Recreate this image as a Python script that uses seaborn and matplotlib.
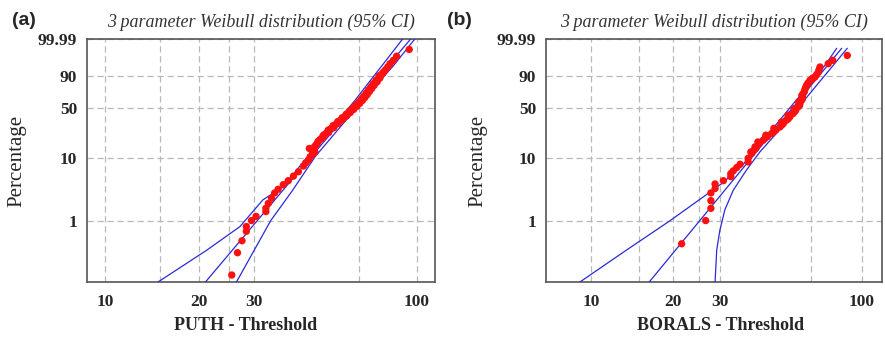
import numpy as np
import matplotlib
matplotlib.use('Agg')
import matplotlib.pyplot as plt
from matplotlib.ticker import NullFormatter
import seaborn as sns

# ---- data (x = value - threshold, y = cumulative %) ----
puth_x = [25.5, 26.6, 27.5, 28.4, 28.4, 29.5, 30.5,
          32.8, 32.8, 33.4, 34.2, 35.0, 35.9, 37.3, 38.7, 40.2, 41.7, 43.3, 44.0,
          44.9, 45.5, 46.3, 47.1, 46.0,
          47.0, 48.0, 48.9, 49.9, 50.9, 51.9, 52.9, 53.9, 54.9, 55.8, 56.8, 57.7,
          58.6, 59.4, 60.2, 61.0, 61.8, 62.6, 63.3, 64.0, 64.7, 65.3, 65.9, 66.6,
          67.2, 67.8, 68.4, 68.9, 69.5, 70.1, 70.7, 71.3, 72.0, 72.7, 73.5, 74.3,
          75.1, 76.0, 76.9, 78.2, 79.3, 80.6, 82.0, 84.0, 86.1, 94.5,
          45.2, 47.6, 48.3, 49.9, 50.2, 52.1, 52.0, 54.1, 53.9, 55.9, 55.8, 57.8,
          57.6, 59.5, 59.3, 61.1, 60.8, 62.7, 62.4, 64.2, 63.8, 65.6, 65.3, 66.9,
          66.5, 68.1, 67.6, 69.3, 68.8, 70.4, 69.9, 71.6, 71.2, 72.9, 72.4, 74.5,
          74.0, 76.1, 75.6, 77.5]
puth_pct = [0.13, 0.30, 0.47, 0.67, 0.80, 1.0, 1.17,
            1.40, 1.58, 1.9, 2.3, 2.8, 3.2, 3.8, 4.4, 5.2, 6.1, 7.5, 8.4,
            9.3, 10.5, 11.4, 12.4, 13.3,
            15, 17, 19, 21, 23, 25, 27, 29, 31, 33, 35, 37,
            39, 41, 43, 45, 47, 49, 51, 53, 55, 57, 59, 61,
            63, 65, 67, 69, 71, 73, 75, 77, 79, 81, 83, 85,
            87, 89, 91, 93, 94.5, 96, 97.4, 98.4, 99.2, 99.8,
            14, 16, 18, 20, 22, 24, 26, 28, 30, 32, 34, 36,
            38, 40, 42, 44, 46, 48, 50, 52, 54, 56, 58, 60,
            62, 64, 66, 68, 70, 72, 74, 76, 78, 80, 82, 84,
            86, 88, 90, 92]

borals_x = [21.6, 26.5, 27.7, 27.7, 27.7, 28.7, 28.7, 30.8, 32.8, 32.8, 33.5,
            34.5, 35.5, 38.0, 38.0, 39.2,
            39.8, 40.3, 41.7, 43.2, 44.8, 46.4, 48.1, 49.8, 51.3, 52.7, 54.2,
            55.7, 57.0, 58.2, 59.0, 59.8, 60.3, 60.7, 61.6, 62.5, 63.4, 64.3,
            65.8, 67.1, 68.0, 69.0, 69.5, 70.0, 75.1, 78.0, 88.3,
            38.9, 40.6, 41.3, 43.9, 44.2, 47.2, 47.3, 50.6, 50.5, 53.5, 53.4,
            56.4, 56.2, 58.9, 58.4, 60.3, 60.0, 61.3, 62.0, 63.0, 65.2, 66.0]
borals_pct = [0.42, 1.0, 1.58, 2.1, 2.8, 3.3, 3.9, 4.4, 5.1, 5.7, 6.3,
              7.1, 8.0, 8.7, 9.9, 11.8,
              13, 14.8, 16.5, 18.6, 21, 23.2, 26, 28.7, 32, 35.4, 39,
              42.9, 47, 51.4, 56, 60, 65, 69.5, 75, 80.2, 83, 85.8,
              87.5, 89, 91, 93, 94.5, 96, 97.4, 98.4, 99.3,
              12.4, 14, 17.5, 19.8, 22, 24.5, 27.5, 30.5, 33.5, 37, 41,
              45, 49, 53.5, 58, 62, 67, 72, 77.5, 82, 86.5, 88.2]

# fitted line and 95% confidence bounds
puth_fit_x = [21.0, 95.5]
puth_fit_pct = [0.1, 99.99]
puth_lo_x = [14.8, 21.2, 27.1, 32.1, 37.3, 44.6, 54.2, 63.3, 70.7, 77.7, 90.0]
puth_lo_pct = [0.1, 0.33, 0.8, 2.17, 3.5, 10.5, 30, 60, 85, 97, 99.99]
puth_hi_x = [26.4, 34.0, 39.8, 47.2, 57.3, 67.2, 76.1, 84.6, 98.5]
puth_hi_pct = [0.1, 1.0, 3.0, 10.5, 30, 60, 85, 97, 99.99]

borals_fit_x = [16.4, 84.2]
borals_fit_pct = [0.1, 99.85]
borals_lo_x = [9.1, 13.5, 19.6, 25.2, 30.5, 36.0, 39.0, 47.9, 57.1, 65.4, 73.3, 80.7]
borals_lo_pct = [0.1, 0.33, 1.0, 2.2, 4.0, 7.5, 11, 30, 60, 85, 97, 99.85]
borals_hi_x = [28.7, 29.1, 29.9, 31.2, 33.5, 37.5, 42.0, 51.3, 61.2, 70.1, 78.7, 88.3]
borals_hi_pct = [0.1, 0.33, 0.7, 1.5, 3.1, 6.5, 12.4, 30, 60, 85, 97, 99.85]

y_ticks = [1, 10, 50, 90, 99.99]
y_labels = ['1', '10', '50', '90', '99.99']
x_ticks = [10, 20, 30, 100]
x_labels = ['10', '20', '30', '100']
x_grid_extra = [15, 25, 65]


def weib_fwd(p):
    p = np.clip(np.asarray(p, dtype=float), 1e-6, 100 - 1e-9)
    return np.log(-np.log(1 - p / 100.0))


def weib_inv(w):
    return 100.0 * (1 - np.exp(-np.exp(np.asarray(w, dtype=float))))


sns.set_style('white')
plt.rcParams['font.family'] = ['Liberation Serif', 'DejaVu Serif']

fig = plt.figure(figsize=(8.85, 3.37), dpi=100)
ax_a = fig.add_axes([87 / 885, 1 - 282 / 337, 348 / 885, 243 / 337])
ax_b = fig.add_axes([546 / 885, 1 - 282 / 337, 336 / 885, 243 / 337])

panels = [
    (ax_a, puth_x, puth_pct,
     [(puth_fit_x, puth_fit_pct), (puth_lo_x, puth_lo_pct), (puth_hi_x, puth_hi_pct)],
     (8.76, 114.3), 'PUTH - Threshold', 0.457, '(a)', -0.216),
    (ax_b, borals_x, borals_pct,
     [(borals_fit_x, borals_fit_pct), (borals_lo_x, borals_lo_pct), (borals_hi_x, borals_hi_pct)],
     (6.82, 118.6), 'BORALS - Threshold', 0.518, '(b)', -0.295),
]

for ax, px, pp, lines, xlim, xlabel, xl_pos, letter, let_x in panels:
    ax.set_xscale('log')
    ax.set_yscale('function', functions=(weib_fwd, weib_inv))

    for lx, lp in lines:
        sns.lineplot(x=lx, y=lp, ax=ax, color='#2a2ad8', linewidth=0.9,
                     sort=False, estimator=None, zorder=3)
    sns.scatterplot(x=px, y=pp, ax=ax, color='#ff1010', s=28,
                    edgecolor='none', zorder=4)

    ax.set_xlim(*xlim)
    ax.set_ylim(0.1, 99.99)
    ax.set_xticks(x_ticks)
    ax.set_xticklabels(x_labels)
    ax.set_xticks(x_grid_extra, minor=True)
    ax.xaxis.set_minor_formatter(NullFormatter())
    ax.set_yticks(y_ticks)
    ax.set_yticklabels(y_labels)
    ax.tick_params(axis='x', which='both', length=0, pad=9)
    ax.tick_params(axis='y', which='both', length=0, pad=7)
    for lab in ax.get_xticklabels() + ax.get_yticklabels():
        lab.set_fontweight('bold')
        lab.set_fontsize(12.5)

    ax.grid(axis='x', which='both', color='#b8b8b8', linestyle=(0, (5, 3)), linewidth=0.9)
    ax.grid(axis='y', which='major', color='#b8b8b8', linestyle=(0, (5, 3)), linewidth=0.9)
    ax.set_axisbelow(True)
    for sp in ax.spines.values():
        sp.set_color('#555555')
        sp.set_linewidth(1.2)

    ax.set_xlabel(xlabel, fontsize=13, fontweight='bold')
    ax.xaxis.set_label_coords(xl_pos, -0.145)
    ax.set_ylabel('Percentage', fontsize=15)
    ax.yaxis.set_label_coords(-0.175, 0.5)
    ax.set_title('3 parameter Weibull distribution (95% CI)', fontsize=13,
                 style='italic', color='#333333', pad=9)
    ax.text(let_x, 1.078, letter, transform=ax.transAxes, fontsize=14,
            fontweight='bold', family=['Liberation Sans', 'DejaVu Sans'],
            ha='left', va='center')

fig.savefig('out.png', dpi=100)
